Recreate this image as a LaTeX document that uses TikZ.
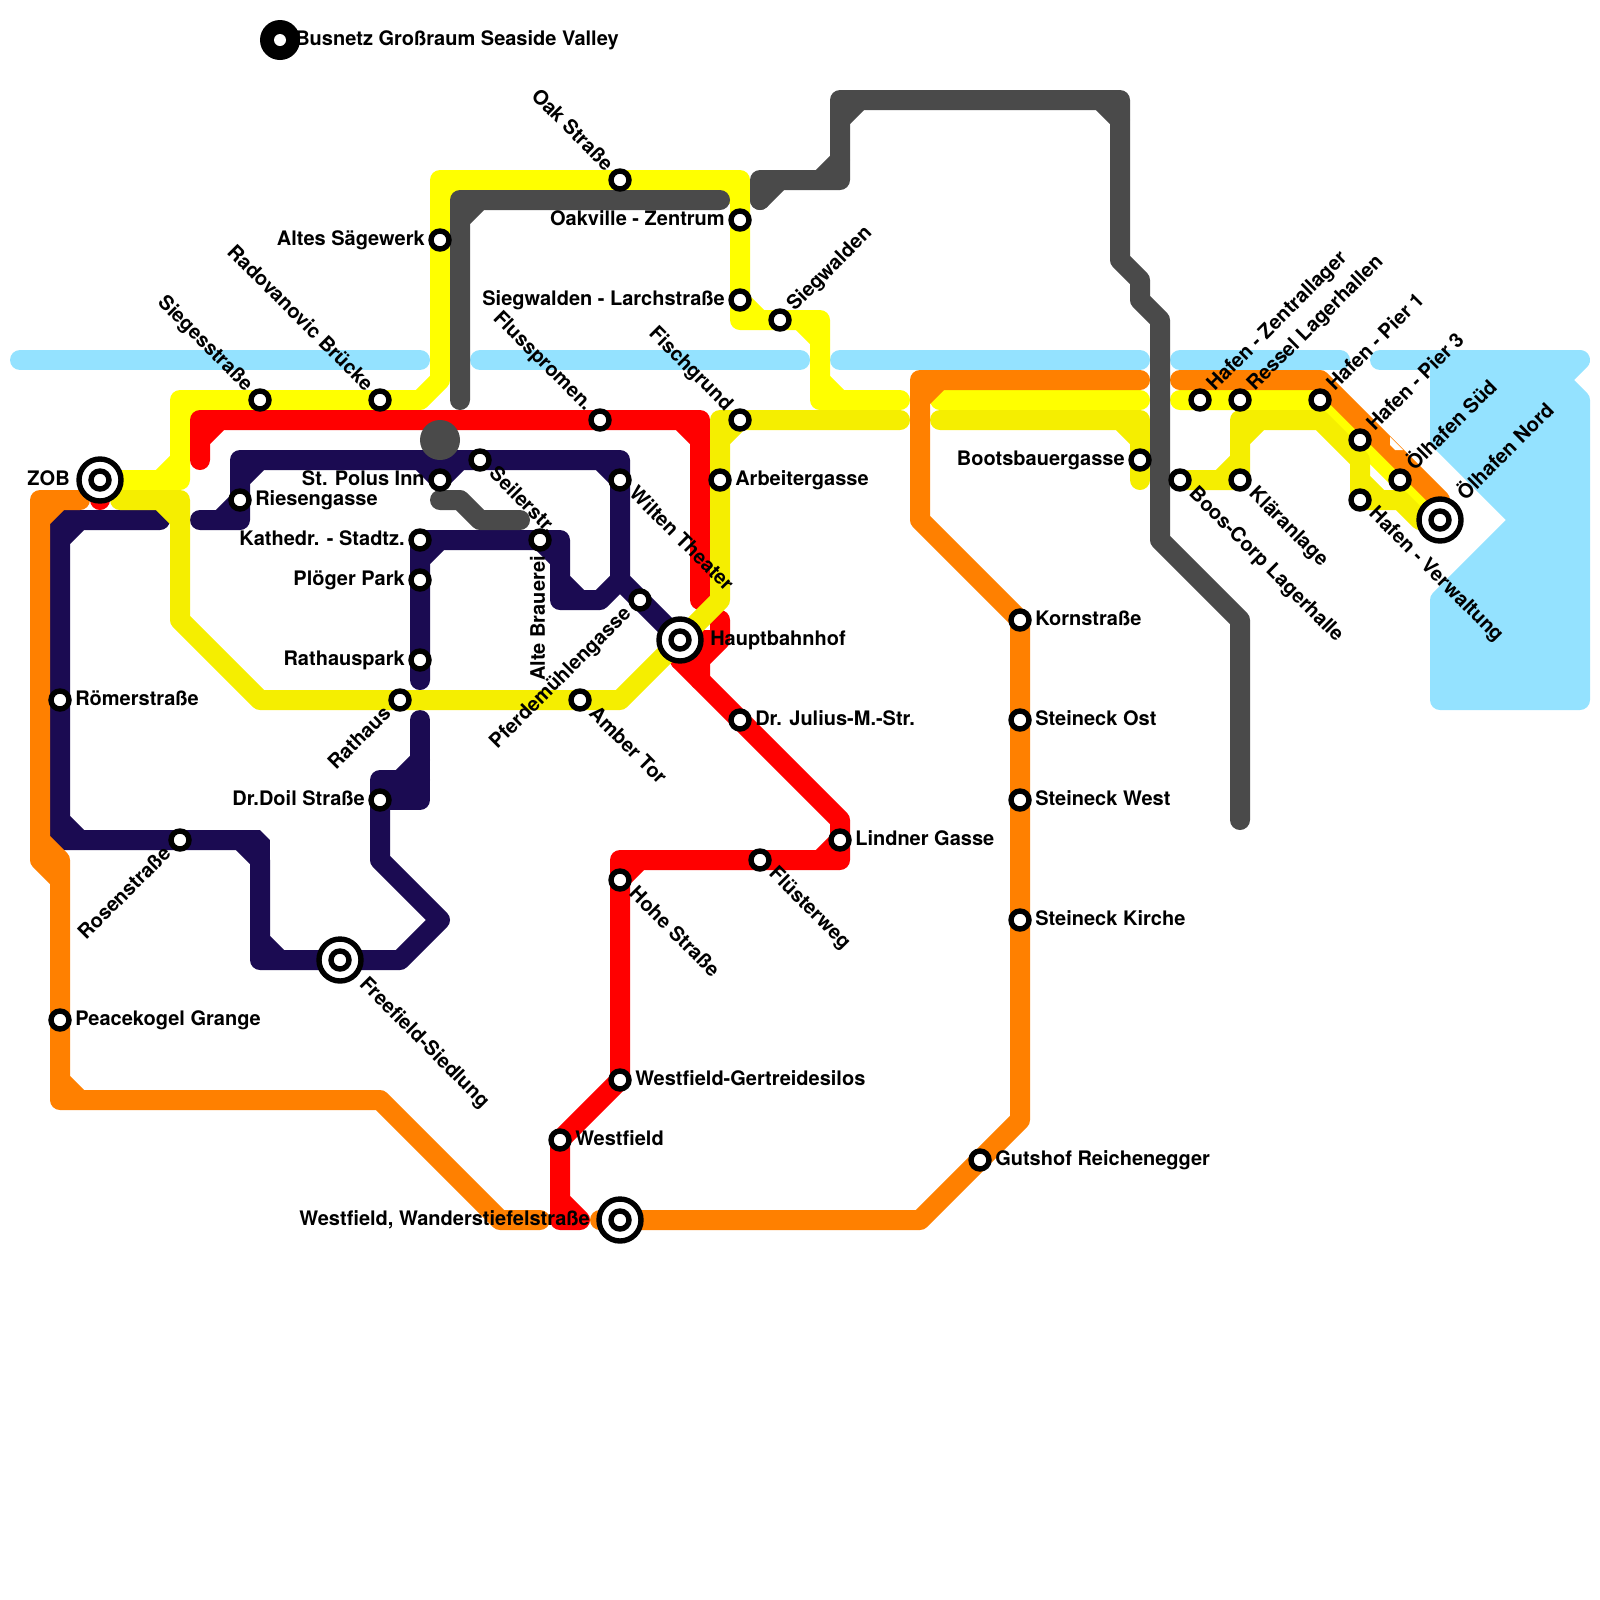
\documentclass[tikz,border=0pt]{standalone}
\usepackage{fontspec}
\setmainfont{TeX Gyre Heros}
\definecolor{Water}{HTML}{94E2FF}
\definecolor{BrightYellow}{HTML}{FFFF00}
\definecolor{PaleYellow}{HTML}{F5EE00}
\definecolor{LineOrange}{HTML}{FF8000}
\definecolor{LineRed}{HTML}{FF0000}
\definecolor{LineNavy}{HTML}{1B0B52}
\definecolor{LineGrey}{HTML}{4A4A4A}
\tikzset{
  track/.style={line width=5mm, line cap=round, line join=round},
  stn/.style={circle, draw=black, fill=white, line width=1.35mm, minimum size=4.5mm, inner sep=0pt},
  stnRing/.style={circle, draw=black, fill=white, line width=1.35mm, minimum size=10.5mm, inner sep=0pt},
  lbl/.style={inner sep=0pt, font=\fontsize{14.23pt}{16pt}\selectfont\bfseries},
  lblE/.style={lbl, anchor=base west, xshift=3.75mm, yshift=-1.4mm},
  lblW/.style={lbl, anchor=base east, xshift=-3.75mm, yshift=-1.4mm},
  lblNE/.style={lbl, rotate=45, anchor=base west, xshift=4mm, yshift=-1.2mm},
  lblSE/.style={lbl, rotate=-45, anchor=base west, xshift=4mm, yshift=-1.2mm},
  lblNW/.style={lbl, rotate=-45, anchor=base east, xshift=-4mm, yshift=-1.2mm},
  lblSW/.style={lbl, rotate=45, anchor=base east, xshift=-4mm, yshift=-1.2mm},
  lblUp/.style={lbl, rotate=90, anchor=base east, xshift=-4mm, yshift=-1.2mm},
}
\begin{document}
\begin{tikzpicture}[x=5mm, y=-5mm]
    \useasboundingbox (0,0) rectangle (80,80);
    % water
    \draw[track, Water] (1,18) -- (21,18) (24,18) -- (40,18) (42,18) -- (57,18) (59,18) -- (67,18) (69,18) -- (72,18);
    \filldraw[track, Water] (72,18) -- (79,18) -- (78,19) -- (79,20) -- (79,35) -- (72,35) -- (72,30) -- (76,26) -- (72,22) -- cycle;
    % navy
    \draw[track, LineNavy] (8,26) -- (3,26) -- (3,42) -- (12,42) (3,27) -- (4,26) (3,41) -- (4,42);
    \draw[track, LineNavy, line join=bevel] (12,42) -- (13,42) -- (13,43);
    \draw[track, LineNavy] (12,42) -- (13,43) -- (13,48) -- (20,48) -- (22,46) -- (19,43) -- (19,39) -- (20,39) -- (21,38) (13,47) -- (14,48);
    \draw[track, LineNavy] (19,40) -- (21,40) -- (21,36) (20,39) -- (21,39);
    \draw[track, LineNavy] (10,26) -- (12,26) -- (12,23) -- (31,23) -- (31,29) -- (34,32) (11,26) -- (12,25) (12,24) -- (13,23) (30,23) -- (31,24) (21,23) -- (22,24) -- (23,23);
    \draw[track, LineNavy] (31,29) -- (30,30) -- (28,30) -- (28,27) -- (21,27) -- (21,34) (27,27) -- (28,28) (28,29) -- (29,30) (21,28) -- (22,27);
    % bright yellow
    \draw[track, BrightYellow] (5,24) -- (9,24) -- (9,20) -- (21,20) -- (22,19) -- (22,9) -- (37,9) -- (37,16) -- (41,16) -- (41,20) -- (45,20);
    \draw[track, BrightYellow] (8,24) -- (9,23) (9,21) -- (10,20) (22,10) -- (23,9) (36,9) -- (37,10) (37,15) -- (38,16) (40,16) -- (41,17) (41,19) -- (42,20);
    \draw[track, BrightYellow] (47,20) -- (57,20) (59,20) -- (66,20) -- (72,26);
    % red
    \fill[LineRed] (5,25) circle (2.5mm);
    \draw[track, LineRed] (10,23) -- (10,21) -- (35,21) -- (35,30) (10,22) -- (11,21) (34,21) -- (35,22);
    \draw[track, LineRed] (36,31) -- (36,32) -- (35,33) -- (35,34) (35,32) -- (36,32) (35,32) -- (35,33) (34,32) -- (34,33) -- (35,33);
    \draw[track, LineRed] (34,33) -- (42,41) -- (42,43) -- (31,43) -- (31,54) -- (28,57) -- (28,61) -- (29,61) (41,43) -- (42,42) (31,44) -- (32,43) (28,60) -- (29,61);
    % pale yellow
    \draw[track, PaleYellow] (6,25) -- (9,25) -- (9,31) -- (13,35) -- (31,35) -- (36,30) -- (36,21) -- (45,21) (8,25) -- (9,26) (36,22) -- (37,21);
    \draw[track, PaleYellow] (47,21) -- (57,21) -- (57,24) (56,21) -- (57,22);
    \draw[track, PaleYellow] (59,24) -- (62,24) -- (62,21) -- (66,21) -- (68,23) -- (68,25) -- (70,25) -- (71,26) (61,24) -- (62,23) (62,22) -- (63,21) (68,24) -- (69,25);
    % orange
    \draw[track, LineOrange] (4,25) -- (2,25) -- (2,43) -- (3,44) -- (3,55) -- (19,55) -- (25,61) -- (27,61) (2,26) -- (3,25) (2,42) -- (3,43) -- (3,44) (3,54) -- (4,55);
    \draw[track, LineOrange] (30,61) -- (46,61) -- (51,56) -- (51,31) -- (46,26) -- (46,19) -- (57,19) (46,20) -- (47,19);
    \draw[track, LineOrange] (59,19) -- (66,19) -- (72,25) -- (72,26);
    \fill[white] (69.5,21.85) -- (69.5,22.25) -- (69.75,22.5) -- (70.15,22.5) -- cycle;
    % grey
    \fill[LineGrey] (22,22) circle (5mm);
    \draw[track, LineGrey] (23,20) -- (23,10) -- (36,10) (23,11) -- (24,10);
    \draw[track, LineGrey] (38,10) -- (38,9) -- (42,9) -- (42,5) -- (56,5) -- (56,13) -- (57,14) -- (57,15) -- (58,16) -- (58,27) -- (62,31) -- (62,41);
    \draw[track, LineGrey] (38,10) -- (39,9) (41,9) -- (42,8) (42,6) -- (43,5) (55,5) -- (56,6);
    \draw[track, LineGrey] (22,25) -- (23,25) -- (24,26) -- (26,26);
    % legend
    \node[circle, fill=black, minimum size=1cm, inner sep=0pt] (busDisc) at (14,2) {};
    \node[circle, fill=white, minimum size=3mm, inner sep=0pt] (busEye) at (busDisc) {};
    \node[lblE] (busL) at (busDisc) {Busnetz Großraum Seaside Valley};
    % interchanges
    \node[stnRing] (zobR) at (5,24) {};
    \node[stn] (zob) at (zobR) {};
    \node[lblW, xshift=-3.75mm] (zobL) at (zob) {ZOB};
    \node[stnRing] (hbfR) at (34,32) {};
    \node[stn] (hbf) at (hbfR) {};
    \node[lblE, xshift=3.75mm] (hbfL) at (hbf) {Hauptbahnhof};
    \node[stnRing] (freeR) at (17,48) {};
    \node[stn] (free) at (freeR) {};
    \node[lblSE, xshift=3.75mm] (freeL) at (free) {Freefield-Siedlung};
    \node[stnRing] (wandR) at (31,61) {};
    \node[stn] (wand) at (wandR) {};
    \node[lblW, xshift=-3.75mm] (wandL) at (wand) {Westfield, Wanderstiefelstraße};
    \node[stnRing] (nordR) at (72,26) {};
    \node[stn] (nord) at (nordR) {};
    \node[lblNE, xshift=3.75mm] (nordL) at (nord) {Ölhafen Nord};
    % stations
    \node[stn] (oak) at (31,9) {};       \node[lblNW] (oakL) at (oak) {Oak Straße};
    \node[stn] (saeg) at (22,12) {};     \node[lblW] (saegL) at (saeg) {Altes Sägewerk};
    \node[stn] (oakz) at (37,11) {};     \node[lblW] (oakzL) at (oakz) {Oakville - Zentrum};
    \node[stn] (larch) at (37,15) {};    \node[lblW] (larchL) at (larch) {Siegwalden - Larchstraße};
    \node[stn] (sieg) at (39,16) {};     \node[lblNE] (siegL) at (sieg) {Siegwalden};
    \node[stn] (fluss) at (30,21) {};    \node[lblNW] (flussL) at (fluss) {Flusspromen.};
    \node[stn] (fisch) at (37,21) {};    \node[lblNW] (fischL) at (fisch) {Fischgrund};
    \node[stn] (rado) at (19,20) {};     \node[lblNW] (radoL) at (rado) {Radovanovic Brücke};
    \node[stn] (siegs) at (13,20) {};    \node[lblNW] (siegsL) at (siegs) {Siegesstraße};
    \node[stn] (arb) at (36,24) {};      \node[lblE] (arbL) at (arb) {Arbeitergasse};
    \node[stn] (polus) at (22,24) {};    \node[lblW] (polusL) at (polus) {St. Polus Inn};
    \node[stn] (seil) at (24,23) {};     \node[lblSE] (seilL) at (seil) {Seilerstr.};
    \node[stn] (wilt) at (31,24) {};     \node[lblSE] (wiltL) at (wilt) {Wilten Theater};
    \node[stn] (ries) at (12,25) {};     \node[lblE] (riesL) at (ries) {Riesengasse};
    \node[stn] (kath) at (21,27) {};     \node[lblW] (kathL) at (kath) {Kathedr. - Stadtz.};
    \node[stn] (alte) at (27,27) {};     \node[lblUp] (alteL) at (alte) {Alte Brauerei};
    \node[stn] (ploeg) at (21,29) {};    \node[lblW] (ploegL) at (ploeg) {Plöger Park};
    \node[stn] (rpark) at (21,33) {};    \node[lblW] (rparkL) at (rpark) {Rathauspark};
    \node[stn] (pferd) at (32,30) {};    \node[lblSW] (pferdL) at (pferd) {Pferdemühlengasse};
    \node[stn] (rath) at (20,35) {};     \node[lblSW] (rathL) at (rath) {Rathaus};
    \node[stn] (amber) at (29,35) {};    \node[lblSE] (amberL) at (amber) {Amber Tor};
    \node[stn] (jul) at (37,36) {};      \node[lblE] (julL) at (jul) {Dr. Julius-M.-Str.};
    \node[stn] (roem) at (3,35) {};      \node[lblE] (roemL) at (roem) {Römerstraße};
    \node[stn] (doil) at (19,40) {};     \node[lblW] (doilL) at (doil) {Dr.Doil Straße};
    \node[stn] (rose) at (9,42) {};      \node[lblSW] (roseL) at (rose) {Rosenstraße};
    \node[stn] (lind) at (42,42) {};     \node[lblE] (lindL) at (lind) {Lindner Gasse};
    \node[stn] (fluest) at (38,43) {};   \node[lblSE] (fluestL) at (fluest) {Flüsterweg};
    \node[stn] (hohe) at (31,44) {};     \node[lblSE] (hoheL) at (hohe) {Hohe Straße};
    \node[stn] (peace) at (3,51) {};     \node[lblE] (peaceL) at (peace) {Peacekogel Grange};
    \node[stn] (gert) at (31,54) {};     \node[lblE] (gertL) at (gert) {Westfield-Gertreidesilos};
    \node[stn] (west) at (28,57) {};     \node[lblE] (westL) at (west) {Westfield};
    \node[stn] (guts) at (49,58) {};     \node[lblE] (gutsL) at (guts) {Gutshof Reichenegger};
    \node[stn] (korn) at (51,31) {};     \node[lblE] (kornL) at (korn) {Kornstraße};
    \node[stn] (sost) at (51,36) {};     \node[lblE] (sostL) at (sost) {Steineck Ost};
    \node[stn] (swest) at (51,40) {};    \node[lblE] (swestL) at (swest) {Steineck West};
    \node[stn] (skir) at (51,46) {};     \node[lblE] (skirL) at (skir) {Steineck Kirche};
    \node[stn] (boots) at (57,23) {};    \node[lblW] (bootsL) at (boots) {Bootsbauergasse};
    \node[stn] (boos) at (59,24) {};     \node[lblSE] (boosL) at (boos) {Boos-Corp Lagerhalle};
    \node[stn] (zentr) at (60,20) {};    \node[lblNE] (zentrL) at (zentr) {Hafen - Zentrallager};
    \node[stn] (ress) at (62,20) {};     \node[lblNE] (ressL) at (ress) {Ressel Lagerhallen};
    \node[stn] (klaer) at (62,24) {};    \node[lblSE] (klaerL) at (klaer) {Kläranlage};
    \node[stn] (pier1) at (66,20) {};    \node[lblNE] (pier1L) at (pier1) {Hafen - Pier 1};
    \node[stn] (pier3) at (68,22) {};    \node[lblNE] (pier3L) at (pier3) {Hafen - Pier 3};
    \node[stn] (verw) at (68,25) {};     \node[lblSE] (verwL) at (verw) {Hafen - Verwaltung};
    \node[stn] (sued) at (70,24) {};     \node[lblNE] (suedL) at (sued) {Ölhafen Süd};
  \end{tikzpicture}
\end{document}
